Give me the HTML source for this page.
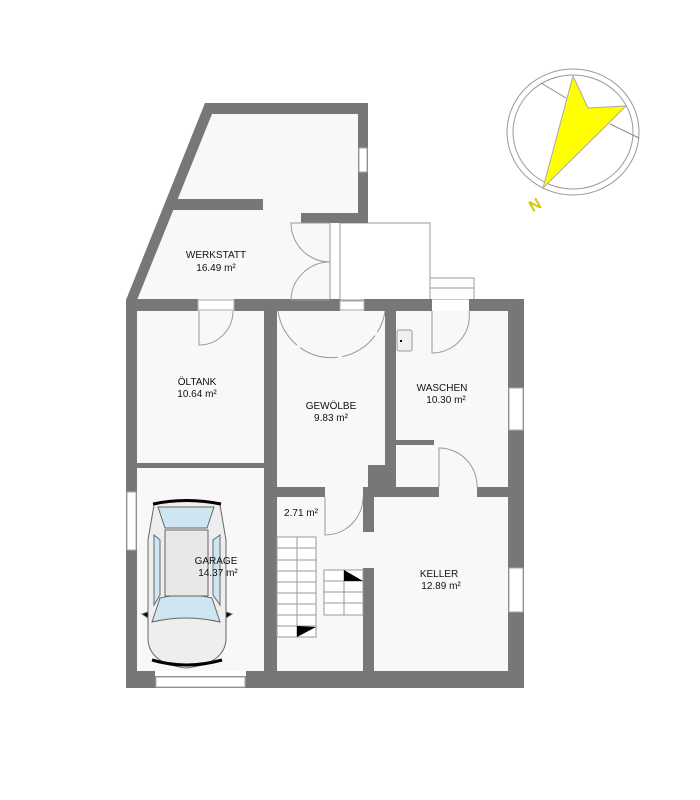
<!DOCTYPE html>
<html><head><meta charset="utf-8"><style>
html,body{margin:0;padding:0;background:#fff;}
svg{display:block}
text{font-family:"Liberation Sans",sans-serif;font-size:10px;fill:#111;text-anchor:middle}
</style></head><body>
<svg width="700" height="800" viewBox="0 0 700 800" xmlns="http://www.w3.org/2000/svg">
<!-- floors -->
<polygon points="212,114 358,114 358,213 301,213 301,223 330,223 330,300 137,300" fill="#f8f8f8"/>
<rect x="137" y="311" width="371" height="360" fill="#f8f8f8"/>
<rect x="340" y="223" width="90" height="77" fill="#fff" stroke="#999" stroke-width="1"/>
<rect x="430" y="278" width="44" height="22" fill="#fff" stroke="#999" stroke-width="1"/>
<line x1="430" y1="288" x2="474" y2="288" stroke="#999"/>
<line x1="330" y1="223" x2="330" y2="300" stroke="#999"/>
<line x1="340" y1="223" x2="340" y2="300" stroke="#999"/>
<g fill="#777">
<polygon points="205,103 368,103 368,114 212,114 137,300 126,300"/>
<rect x="358" y="103" width="10" height="120"/>
<rect x="301" y="213" width="67" height="10"/>
<polygon points="177,199 263,199 263,210 173,210"/>
<rect x="126" y="299" width="72" height="12"/>
<rect x="234" y="299" width="96" height="12"/>
<rect x="330" y="299" width="10" height="12"/>
<rect x="364" y="299" width="68" height="12"/>
<rect x="469" y="299" width="55" height="12"/>
<rect x="126" y="299" width="11" height="389"/>
<rect x="508" y="299" width="16" height="389"/>
<rect x="264" y="299" width="13" height="389"/>
<rect x="385" y="311" width="11" height="176"/>
<rect x="368" y="465" width="28" height="22"/>
<rect x="277" y="487" width="48" height="10"/>
<rect x="363" y="487" width="76" height="10"/>
<rect x="477" y="487" width="31" height="10"/>
<rect x="363" y="487" width="11" height="45"/>
<rect x="363" y="568" width="11" height="103"/>
<rect x="396" y="440" width="38" height="5"/>
<rect x="137" y="463" width="127" height="5"/>
<rect x="126" y="671" width="29" height="17"/>
<rect x="246" y="671" width="278" height="17"/>
<rect x="155" y="676" width="91" height="12"/>
</g>
<g fill="#fff" stroke="#aaa" stroke-width="1">
<rect x="359" y="148" width="8" height="24"/>
<rect x="198" y="300" width="36" height="10"/>
<rect x="340" y="301" width="24" height="9"/>
<rect x="127" y="492" width="9" height="58"/>
<rect x="509" y="388" width="14" height="42"/>
<rect x="509" y="568" width="14" height="44"/>
<rect x="156" y="677" width="89" height="10"/>
</g>
<rect x="432" y="300" width="37" height="11" fill="#fff"/>
<g fill="none" stroke="#999" stroke-width="1">
<path d="M199,311 V345 A34,34 0 0 0 233,311"/>
<path d="M278,311 A54,54 0 0 0 385,311" stroke-dasharray="40,4"/>
<path d="M432,311 V353 A37,37 0 0 0 469,311"/>
<path d="M330,223 H291 A39,39 0 0 0 330,262 A39,39 0 0 0 291,300 H330"/>
<path d="M325,497 V535 A38,38 0 0 0 363,497"/>
<path d="M439,487 V448 A38,38 0 0 1 477,487"/>
</g>
<rect x="397" y="330" width="15" height="21" rx="2" fill="#f0f0f0" stroke="#999"/>
<rect x="400" y="340" width="2" height="2" fill="#000"/>
<g fill="#fff" stroke="#999" stroke-width="1">
<rect x="277" y="537" width="39" height="100"/>
<rect x="324" y="570" width="39" height="45"/>
</g>
<g stroke="#999" stroke-width="1">
<line x1="297" y1="537" x2="297" y2="637"/>
<line x1="277" y1="548" x2="316" y2="548"/><line x1="277" y1="560" x2="316" y2="560"/>
<line x1="277" y1="571" x2="316" y2="571"/><line x1="277" y1="582" x2="316" y2="582"/>
<line x1="277" y1="593" x2="316" y2="593"/><line x1="277" y1="604" x2="316" y2="604"/>
<line x1="277" y1="615" x2="316" y2="615"/><line x1="277" y1="626" x2="316" y2="626"/>
<line x1="344" y1="570" x2="344" y2="615"/>
<line x1="324" y1="581" x2="363" y2="581"/><line x1="324" y1="592" x2="363" y2="592"/>
<line x1="324" y1="603" x2="363" y2="603"/>
</g>
<polygon points="297,626 316,627 297,637" fill="#000"/>
<polygon points="344,570 363,581 344,581" fill="#000"/>
<g stroke="#666" stroke-width="1">
<path d="M154,505 Q186,496 220,505 L226,540 L226,640 Q224,664 186,668 Q150,664 148,640 L148,540 Z" fill="#eee"/>
<path d="M153,504 Q186,497 221,504" stroke="#000" stroke-width="3" fill="none"/>
<path d="M152,660 Q186,670 222,660" stroke="#000" stroke-width="3" fill="none"/>
<path d="M158,507 L214,507 L207,528 L165,528 Z" fill="#cfe6f2"/>
<path d="M160,598 Q186,592 212,598 L220,622 Q186,614 152,622 Z" fill="#cfe6f2"/>
<path d="M154,535 L160,540 L160,595 L154,605 Z" fill="#cfe6f2"/>
<path d="M220,535 L213,540 L213,595 L220,605 Z" fill="#cfe6f2"/>
<rect x="165" y="530" width="43" height="66" fill="#e8e8e8"/>
<path d="M148,612 L142,614 L148,618 Z M226,612 L232,614 L226,618 Z" fill="#000"/>
</g>
<ellipse cx="573" cy="132" rx="66" ry="63" fill="none" stroke="#999" stroke-width="1"/>
<ellipse cx="573" cy="132" rx="60" ry="57" fill="none" stroke="#999" stroke-width="1"/>
<line x1="541" y1="83" x2="566" y2="98" stroke="#888"/>
<line x1="610" y1="124" x2="639" y2="138" stroke="#888"/>
<polygon points="573,76 588,108 626,106 543,188" fill="#ffff00" stroke="#aaa" stroke-width="1"/>
<text x="535" y="210" transform="rotate(-30 535 205)" style="font-size:15px;fill:#ffff00;stroke:#bba000;stroke-width:0.6">N</text>
<text x="216" y="258">WERKSTATT</text><text x="216" y="271">16.49 m²</text>
<text x="197" y="385">ÖLTANK</text><text x="197" y="397">10.64 m²</text>
<text x="331" y="409">GEWÖLBE</text><text x="331" y="421">9.83 m²</text>
<text x="442" y="391">WASCHEN</text><text x="446" y="403">10.30 m²</text>
<text x="301" y="516">2.71 m²</text>
<text x="216" y="564">GARAGE</text><text x="218" y="576">14.37 m²</text>
<text x="439" y="577">KELLER</text><text x="441" y="589">12.89 m²</text>
</svg>
</body></html>
